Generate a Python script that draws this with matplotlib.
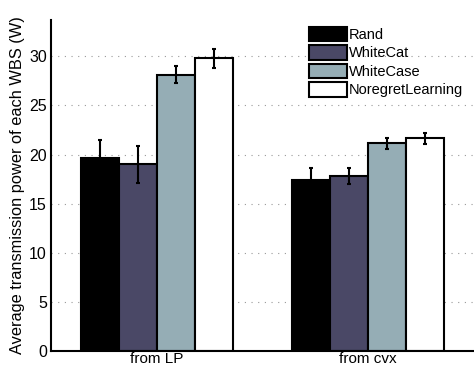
import numpy as np
import matplotlib.pyplot as plt

plt.rcParams['font.family'] = ['Liberation Sans', 'DejaVu Sans']

groups = ['from LP', 'from cvx']
methods = ['Rand', 'WhiteCat', 'WhiteCase', 'NoregretLearning']
means = [[19.7, 17.45],
         [19.0, 17.85],
         [28.15, 21.15],
         [29.8, 21.65]]
errs = [[1.8, 1.2],
        [1.9, 0.8],
        [0.85, 0.55],
        [0.95, 0.55]]
colors = ['#000000', '#4a4866', '#95adb5', '#ffffff']

fig = plt.figure(figsize=(4.74, 3.71), dpi=100)
ax = fig.add_axes([0.1076, 0.054, 0.8924, 0.892])

x = np.arange(1, len(groups) + 1)
w = 0.18
for i in range(len(methods)):
    pos = x + (i - 1.5) * w
    ax.bar(pos, means[i], w, color=colors[i], edgecolor='black', linewidth=1.5,
           label=methods[i], zorder=2)
    ax.errorbar(pos, means[i], yerr=errs[i], fmt='none', ecolor='black',
                elinewidth=1.5, capsize=1.5, capthick=1.5, zorder=3)

ax.set_xlim(0.5, 2.5)
ax.set_ylim(0, 33.7)
ax.set_xticks(x)
ax.set_xticklabels(groups, fontsize=11)
ax.set_yticks(range(0, 31, 5))
ax.tick_params(axis='y', length=0, labelsize=11.5, pad=3)
ax.tick_params(axis='x', direction='in', length=3, width=1, pad=1)
ax.yaxis.grid(True, linestyle=(0, (1, 5)), color='#999999', linewidth=0.8, zorder=0)
ax.set_axisbelow(True)
for s in ['top', 'right']:
    ax.spines[s].set_visible(False)
ax.spines['left'].set_linewidth(1.5)
ax.spines['bottom'].set_linewidth(1.5)
ax.set_ylabel('Average transmission power of each WBS (W)', fontsize=11.8, labelpad=3)

ax.legend(loc='upper right', bbox_to_anchor=(0.998, 1.01), frameon=False, fontsize=10.5,
          handlelength=2.6, handleheight=1.15, handletextpad=0.15, labelspacing=0.22,
          borderaxespad=0.3)

fig.savefig('out.png', dpi=100)
